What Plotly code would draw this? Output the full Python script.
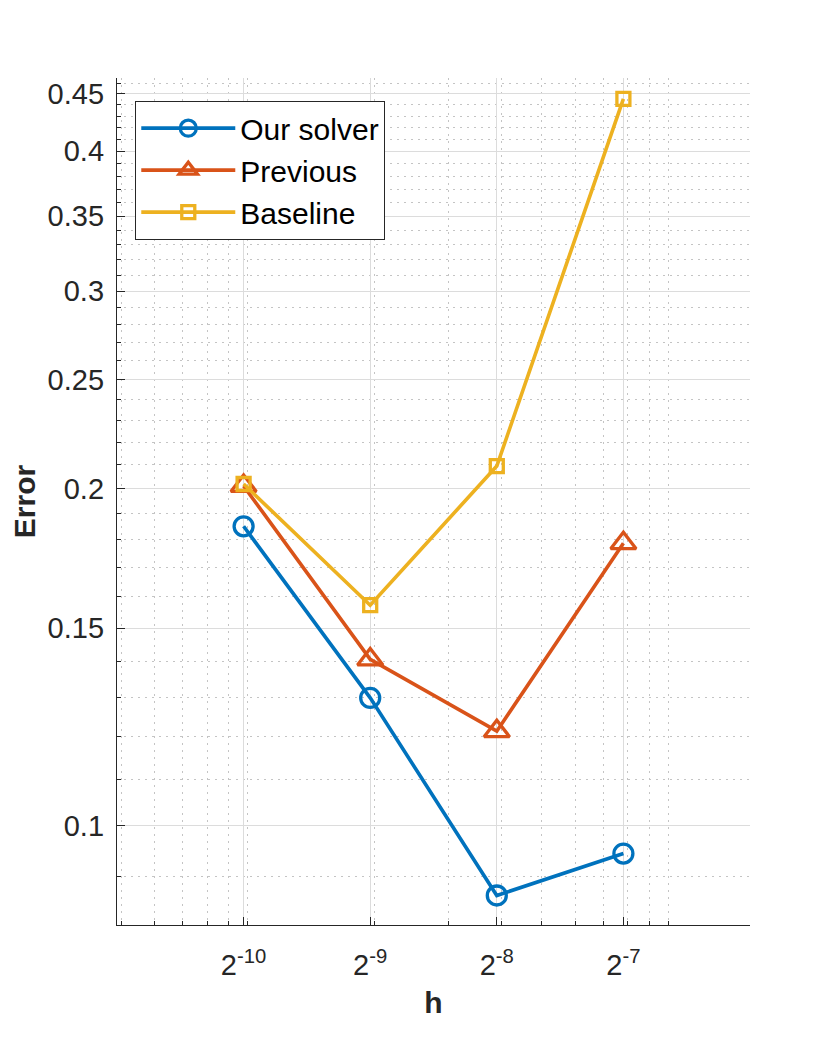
import plotly.graph_objects as go
import numpy as np

# ---- data ----
h_exp = [-10, -9, -8, -7]
h_vals = [2.0 ** e for e in h_exp]
tick_labels = ["2<sup>-10</sup>", "2<sup>-9</sup>", "2<sup>-8</sup>", "2<sup>-7</sup>"]

our_solver = [0.185, 0.1300, 0.0866, 0.0944]
previous = [0.201, 0.1407, 0.1214, 0.1787]
baseline = [0.2018, 0.1573, 0.2094, 0.4455]

y_ticks = [0.1, 0.15, 0.2, 0.25, 0.3, 0.35, 0.4, 0.45]
y_tick_labels = ["0.1", "0.15", "0.2", "0.25", "0.3", "0.35", "0.4", "0.45"]
y_minor = [0.09, 0.11, 0.12, 0.13, 0.14, 0.16, 0.17, 0.18, 0.19,
           0.21, 0.22, 0.23, 0.24, 0.26, 0.27, 0.28, 0.29,
           0.31, 0.32, 0.33, 0.34, 0.36, 0.37, 0.38, 0.39,
           0.41, 0.42, 0.43, 0.44, 0.46]
x_minor = [0.0005, 0.0006, 0.0007, 0.0008, 0.0009, 0.001,
           0.002, 0.003, 0.004, 0.005, 0.006, 0.007, 0.008, 0.009, 0.01]

x_range = [np.log10(2.0 ** -11), np.log10(2.0 ** -6)]
y_range = [np.log10(0.0815), np.log10(0.465)]

C_BLUE = "#0072BD"
C_RED = "#D95319"
C_YEL = "#EDB120"
AX = "#262626"
FONT = "Liberation Sans, Arial, sans-serif"
MINOR_DASH = "2px,5px"

fig = go.Figure()
fig.add_trace(go.Scatter(
    x=h_vals, y=our_solver, name="Our solver", mode="lines+markers",
    line=dict(color=C_BLUE, width=3.6),
    marker=dict(symbol="circle-open", size=19, color=C_BLUE, line=dict(width=3.3, color=C_BLUE)),
))
fig.add_trace(go.Scatter(
    x=h_vals, y=previous, name="Previous", mode="lines+markers",
    line=dict(color=C_RED, width=3.6),
    marker=dict(symbol="triangle-up-open", size=22, color=C_RED, line=dict(width=3.3, color=C_RED)),
))
fig.add_trace(go.Scatter(
    x=h_vals, y=baseline, name="Baseline", mode="lines+markers",
    line=dict(color=C_YEL, width=3.6),
    marker=dict(symbol="square-open", size=13, color=C_YEL, line=dict(width=3.3, color=C_YEL)),
))

fig.update_layout(
    width=830, height=1038,
    margin=dict(l=109, r=88, t=70, b=121, autoexpand=False),
    paper_bgcolor="white", plot_bgcolor="white",
    font=dict(family=FONT, color=AX, size=29),
    showlegend=True,
    legend=dict(
        x=0.0284, y=0.973, xanchor="left", yanchor="top",
        bgcolor="white", bordercolor=AX, borderwidth=1.3,
        font=dict(family=FONT, size=30, color="black"),
        itemwidth=94,
        tracegroupgap=0,
    ),
    xaxis=dict(
        type="log", range=x_range, automargin=False,
        tickmode="array", tickvals=h_vals, ticktext=tick_labels,
        ticks="inside", ticklen=8, tickwidth=1.3, tickcolor=AX,
        showline=True, linecolor=AX, linewidth=1.3, mirror=False,
        showgrid=True, gridcolor="#dcdcdc", gridwidth=1.2,
        zeroline=False,
        tickfont=dict(family=FONT, size=29, color=AX),
        ticklabelstandoff=14,
        title=dict(text="h", font=dict(family=FONT, size=30, color=AX, weight="bold"), standoff=12),
        minor=dict(
            tickmode="array", tickvals=x_minor,
            ticks="inside", ticklen=4, tickwidth=1.2, tickcolor=AX,
            showgrid=True, gridcolor="#c4c4c4", gridwidth=1, griddash=MINOR_DASH,
        ),
    ),
    yaxis=dict(
        type="log", range=y_range, automargin=False,
        tickmode="array", tickvals=y_ticks, ticktext=y_tick_labels,
        ticks="inside", ticklen=8, tickwidth=1.3, tickcolor=AX,
        showline=True, linecolor=AX, linewidth=1.3, mirror=False,
        showgrid=True, gridcolor="#dcdcdc", gridwidth=1.2,
        zeroline=False,
        tickfont=dict(family=FONT, size=29, color=AX),
        ticklabelstandoff=6,
        title=dict(text="Error", font=dict(family=FONT, size=30, color=AX, weight="bold"), standoff=19),
        minor=dict(
            tickmode="array", tickvals=y_minor,
            ticks="inside", ticklen=4, tickwidth=1.2, tickcolor=AX,
            showgrid=True, gridcolor="#c4c4c4", gridwidth=1, griddash=MINOR_DASH,
        ),
    ),
)

fig.write_html("out.html")
